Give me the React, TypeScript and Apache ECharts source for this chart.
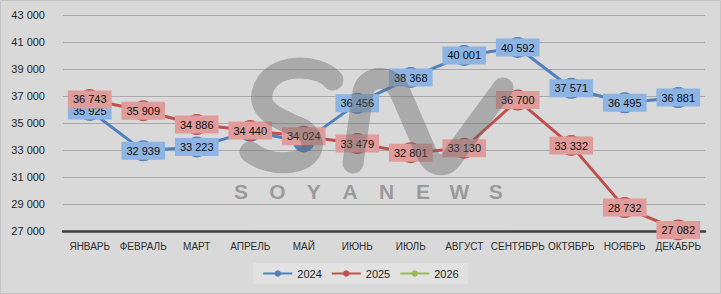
import React, { useEffect, useRef } from "react";
import * as echarts from "echarts";

const months = [
  "ЯНВАРЬ", "ФЕВРАЛЬ", "МАРТ", "АПРЕЛЬ", "МАЙ", "ИЮНЬ",
  "ИЮЛЬ", "АВГУСТ", "СЕНТЯБРЬ", "ОКТЯБРЬ", "НОЯБРЬ", "ДЕКАБРЬ",
];
const values2024 = [35925, 32939, 33223, 34380, 33600, 36456, 38368, 40001, 40592, 37571, 36495, 36881];
const values2025 = [36743, 35909, 34886, 34440, 34024, 33479, 32801, 33130, 36700, 33332, 28732, 27082];
const values2026: number[] = [];
// 2024 points whose value labels are not shown (they sit under the 2025 labels)
const hiddenLabels2024 = [3, 4];
const yMin = 27000;
const yMax = 43000;
const yStep = 2000;
const watermarkLetters = ["S", "O", "Y", "A", "N", "E", "W", "S"];

// Watermark logo strokes
echarts.graphic.registerShape(
  "wmS",
  echarts.graphic.extendPath(
    "M 333 80 C 318 63, 272 62, 263 90 C 256 110, 278 119, 298 127 C 318 135, 318 158, 292 162 C 273 165, 258 158, 250 152",
    {}
  )
);
echarts.graphic.registerShape(
  "wmN",
  echarts.graphic.extendPath(
    "M 353 163 L 363 92 C 366 76, 390 72, 400 92 L 426 152 C 433 168, 447 170, 456 152 L 503 88",
    {}
  )
);

const fmt = (v: number) => String(v).replace(/\B(?=(\d{3})+(?!\d))/g, " ");
const FONT = "Liberation Sans, Arial, sans-serif";
const WM = "rgba(105,105,105,0.42)";
const WM_TEXT = "rgba(100,100,100,0.55)";

export default function App() {
  const ref = useRef<HTMLDivElement>(null);

  useEffect(() => {
    document.body.style.margin = "0";
    const chart = echarts.init(ref.current!, null, { renderer: "svg" });

    const labelFor = (bg: string) => ({
      show: true,
      position: "inside",
      formatter: (p: any) => fmt(p.value),
      backgroundColor: bg,
      color: "#0d0d0d",
      fontFamily: FONT,
      fontSize: 11,
      lineHeight: 12,
      padding: [3, 5],
    });

    const data2024 = values2024.map((v, i) =>
      hiddenLabels2024.includes(i) ? { value: v, label: { show: false } } : v
    );

    chart.setOption({
      animation: false,
      backgroundColor: "#d9d9d9",
      textStyle: { fontFamily: FONT },
      grid: { left: 63, right: 16, top: 15, bottom: 63, containLabel: false },
      xAxis: {
        type: "category",
        data: months,
        boundaryGap: true,
        axisLine: { show: true, lineStyle: { color: "#3f3f3f", width: 2.5 } },
        axisTick: { show: false },
        axisLabel: { interval: 0, color: "#2e2e2e", fontSize: 10, margin: 10, fontFamily: FONT },
      },
      yAxis: {
        type: "value",
        min: yMin,
        max: yMax,
        interval: yStep,
        axisLine: { show: false },
        axisTick: { show: false },
        axisLabel: { color: "#1f1f1f", fontSize: 11, margin: 18, formatter: fmt, fontFamily: FONT },
        splitLine: { lineStyle: { color: "#a9a9a9", width: 1 } },
      },
      legend: {
        left: "center",
        top: 263,
        backgroundColor: "#e1e1e1",
        padding: [5, 9],
        itemWidth: 29,
        itemHeight: 8,
        itemGap: 9,
        textStyle: { color: "#1f1f1f", fontSize: 11, fontFamily: FONT },
        data: ["2024", "2025", "2026"],
      },
      series: [
        {
          name: "2024",
          type: "line",
          data: data2024,
          clip: false,
          symbol: "circle",
          symbolSize: 21,
          color: "#4f81bd",
          lineStyle: { width: 3, color: "#4f81bd" },
          itemStyle: { color: "#4f81bd" },
          label: labelFor("#8db4e2"),
        },
        {
          name: "2025",
          type: "line",
          data: values2025,
          clip: false,
          symbol: "circle",
          symbolSize: 21,
          color: "#c0504d",
          lineStyle: { width: 3, color: "#c0504d" },
          itemStyle: { color: "#c0504d" },
          label: labelFor("#e09c9a"),
        },
        {
          name: "2026",
          type: "line",
          data: values2026,
          symbol: "circle",
          symbolSize: 21,
          color: "#9bbb59",
          lineStyle: { width: 3, color: "#9bbb59" },
          itemStyle: { color: "#9bbb59" },
        },
      ],
      graphic: [
        {
          type: "rect",
          z: 0,
          silent: true,
          shape: { x: 0.5, y: 0.5, width: 720, height: 293 },
          style: { fill: "none", stroke: "#c4c4c4", lineWidth: 1 },
        },
        {
          type: "wmS",
          z: 100,
          silent: true,
          x: 0,
          y: 0,
          style: { fill: "none", stroke: WM, lineWidth: 21, lineCap: "round", lineJoin: "round" },
        },
        {
          type: "wmN",
          z: 100,
          silent: true,
          x: 0,
          y: 0,
          style: { fill: "none", stroke: WM, lineWidth: 21, lineCap: "round", lineJoin: "round" },
        },
        ...watermarkLetters.map((ch, i) => ({
          type: "text",
          z: 100,
          silent: true,
          x: 241 + i * 36.4,
          y: 191,
          style: {
            text: ch,
            fill: WM_TEXT,
            font: "bold 21px " + FONT,
            align: "center",
            verticalAlign: "middle",
          },
        })),
      ],
    });

    return () => chart.dispose();
  }, []);

  return <div ref={ref} style={{ width: 721, height: 294 }} />;
}
